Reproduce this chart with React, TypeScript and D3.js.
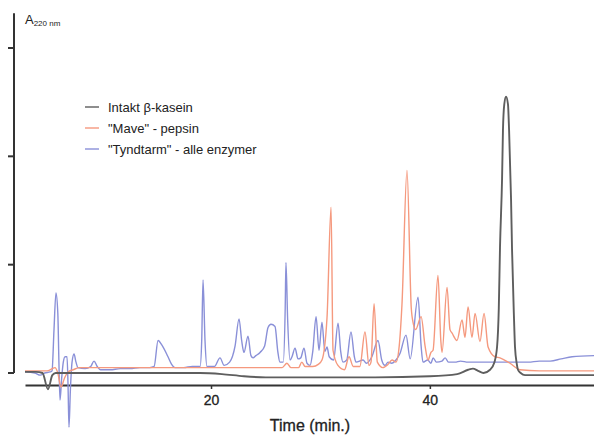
import React, { useEffect, useRef } from "react";
import * as d3 from "d3";

// time (min.) / absorbance readings taken off the chromatogram
const intaktTime = [3.0, 4.0, 4.6, 5.1, 5.5, 5.8, 6.5, 10, 15, 19, 21, 23, 25, 30, 35, 40, 42.5, 43.5, 43.94, 44.4, 44.9, 45.5, 45.9, 46.14, 46.3, 46.41, 46.6, 46.68, 46.8, 46.96, 47.14, 47.24, 47.42, 47.51, 47.69, 47.78, 47.95, 48.05, 48.3, 48.69, 50, 55];
const intaktValue = [0.01, 0.01, 0.0, -0.15, -0.02, 0.0, 0.0, 0.0, 0.0, 0.0, -0.01, -0.03, -0.04, -0.04, -0.04, -0.03, -0.01, 0.03, 0.04, 0.02, 0.0, 0.03, 0.1, 0.24, 0.6, 1.16, 1.8, 2.24, 2.48, 2.55, 2.48, 2.24, 1.6, 1.14, 0.5, 0.24, 0.08, 0.03, 0.0, -0.02, -0.02, -0.02];

const maveTime = [3.0, 4.0, 5.0, 5.5, 5.74, 6.0, 6.29, 6.6, 6.93, 7.4, 8.0, 12, 18, 24, 26.5, 26.94, 27.3, 28.0, 28.3, 28.6, 29.3, 29.8, 30.14, 30.6, 30.97, 31.15, 31.6, 32.2, 32.61, 33.0, 33.6, 34.07, 34.44, 34.62, 34.9, 35.2, 35.7, 36.18, 36.54, 36.9, 37.2, 37.45, 37.91, 38.3, 38.5, 38.7, 39.2, 39.56, 39.83, 40.1, 40.29, 40.74, 41.0, 41.11, 41.57, 41.84, 42.02, 42.48, 42.94, 43.21, 43.49, 43.85, 44.13, 44.58, 44.95, 45.32, 45.95, 46.41, 47.32, 48.24, 50, 55];
const maveValue = [0.02, 0.02, 0.02, 0.04, 0.05, 0.0, -0.13, -0.05, 0.01, 0.03, 0.05, 0.05, 0.05, 0.05, 0.05, 0.09, 0.05, 0.05, 0.1, 0.06, 0.06, 0.08, 0.12, 0.51, 1.53, 0.21, 0.07, 0.03, 0.15, 0.06, 0.06, 0.38, 0.07, 0.1, 0.64, 0.1, 0.05, 0.08, 0.12, 0.1, 0.25, 0.63, 1.87, 0.6, 0.45, 0.4, 0.52, 0.25, 0.12, 0.19, 0.21, 0.9, 0.3, 0.19, 0.79, 0.4, 0.37, 0.3, 0.49, 0.33, 0.61, 0.33, 0.55, 0.29, 0.55, 0.24, 0.15, 0.14, 0.09, 0.03, 0.02, 0.02];

const tyndTime = [3.0, 3.9, 4.4, 4.8, 5.3, 5.47, 5.65, 5.83, 6.0, 6.1, 6.2, 6.35, 6.5, 6.66, 6.84, 6.93, 7.02, 7.15, 7.3, 7.48, 7.66, 7.84, 8.5, 9.0, 9.31, 9.6, 9.9, 10.8, 11.7, 12.6, 13.5, 14.4, 14.8, 15.16, 15.5, 16.07, 16.4, 16.7, 17.5, 18.3, 19.0, 19.15, 19.27, 19.45, 19.63, 20.3, 20.82, 21.2, 21.7, 22.2, 22.56, 22.8, 23.01, 23.38, 23.65, 23.84, 24.1, 24.48, 24.9, 25.21, 25.48, 25.85, 26.1, 26.3, 26.6, 26.78, 26.85, 27.0, 27.22, 27.4, 27.68, 27.95, 28.2, 28.5, 28.77, 29.05, 29.3, 29.6, 29.87, 30.14, 30.4, 30.6, 30.8, 31.2, 31.61, 31.85, 32.06, 32.4, 32.79, 33.1, 33.25, 33.89, 34.2, 34.7, 35.26, 35.6, 35.9, 36.18, 36.5, 36.9, 37.27, 37.82, 38.2, 38.92, 39.2, 39.37, 39.8, 40.1, 40.3, 40.6, 41.1, 41.4, 41.7, 42.3, 42.8, 43.5, 44.2, 45, 46, 47, 48, 49, 50, 51, 52, 53, 55];
const tyndValue = [0.01, 0.0, -0.02, 0.0, 0.01, 0.02, 0.4, 0.74, 0.55, 0.1, -0.25, -0.05, 0.1, 0.15, 0.15, -0.1, -0.5, -0.15, 0.1, 0.175, 0.1, 0.05, 0.04, 0.06, 0.11, 0.06, 0.03, 0.03, 0.04, 0.04, 0.05, 0.05, 0.06, 0.3, 0.26, 0.15, 0.08, 0.05, 0.05, 0.06, 0.06, 0.3, 0.86, 0.3, 0.06, 0.06, 0.14, 0.07, 0.1, 0.25, 0.5, 0.3, 0.19, 0.34, 0.16, 0.14, 0.16, 0.19, 0.25, 0.42, 0.45, 0.43, 0.2, 0.1, 0.1, 0.6, 1.02, 0.5, 0.12, 0.15, 0.23, 0.13, 0.14, 0.23, 0.09, 0.07, 0.2, 0.52, 0.21, 0.47, 0.2, 0.24, 0.15, 0.12, 0.46, 0.2, 0.1, 0.12, 0.38, 0.15, 0.1, 0.12, 0.09, 0.15, 0.3, 0.12, 0.07, 0.1, 0.09, 0.12, 0.18, 0.35, 0.13, 0.7, 0.25, 0.1, 0.12, 0.09, 0.14, 0.1, 0.11, 0.14, 0.1, 0.1, 0.11, 0.1, 0.1, 0.1, 0.1, 0.1, 0.1, 0.1, 0.11, 0.11, 0.13, 0.15, 0.16, 0.17];

const legendLabels = ["Intakt \u03b2-kasein", "\"Mave\" - pepsin", "\"Tyndtarm\" - alle enzymer"];
const seriesColors = ["#5e5e5e", "#f5997e", "#8a90d8"];
const xTicks = [20, 40];
const yTicks = [0, 1, 2, 3];

export default function App() {
  const svgRef = useRef<SVGSVGElement>(null);

  useEffect(() => {
    const width = 594;
    const height = 435;
    const font = "'Liberation Sans', Arial, sans-serif";

    const svg = d3.select(svgRef.current);
    svg.selectAll("*").remove();
    svg.attr("width", width).attr("height", height);

    const x = d3.scaleLinear().domain([3, 55]).range([25, 594]);
    const y = d3.scaleLinear().domain([0, 3]).range([373, 48]);

    // y axis: bare line with left ticks, no labels
    svg
      .append("line")
      .attr("x1", 14)
      .attr("x2", 14)
      .attr("y1", y(3.32))
      .attr("y2", y(0))
      .attr("stroke", "#333")
      .attr("stroke-width", 2);
    svg
      .selectAll("line.ytick")
      .data(yTicks)
      .join("line")
      .attr("class", "ytick")
      .attr("x1", 8)
      .attr("x2", 14)
      .attr("y1", (d) => y(d))
      .attr("y2", (d) => y(d))
      .attr("stroke", "#333")
      .attr("stroke-width", 2);

    const yLabel = svg
      .append("text")
      .attr("x", 25)
      .attr("y", 24)
      .style("font-family", font)
      .style("fill", "#222");
    yLabel.append("tspan").attr("font-size", 13).text("A");
    yLabel.append("tspan").attr("font-size", 8).attr("dy", 2).text("220 nm");

    // x axis
    const xAxis = svg
      .append("g")
      .attr("transform", "translate(0,385)")
      .call(
        d3
          .axisBottom(x)
          .tickValues(xTicks)
          .tickSize(4)
          .tickSizeOuter(0)
          .tickPadding(6)
      );
    xAxis.select(".domain").attr("stroke", "#333").attr("stroke-width", 2.2);
    xAxis.selectAll(".tick line").attr("stroke", "#333").attr("stroke-width", 1.5);
    xAxis
      .selectAll(".tick text")
      .style("font-family", font)
      .style("font-size", "14px")
      .style("fill", "#222")
      .style("stroke", "#222")
      .style("stroke-width", 0.3);

    svg
      .append("text")
      .attr("x", 310)
      .attr("y", 431)
      .attr("text-anchor", "middle")
      .style("font-family", font)
      .style("font-size", "16px")
      .style("fill", "#222")
      .style("stroke", "#222")
      .style("stroke-width", 0.3)
      .text("Time (min.)");

    // traces
    const series = [
      d3.zip(intaktTime, intaktValue),
      d3.zip(maveTime, maveValue),
      d3.zip(tyndTime, tyndValue),
    ];
    const line = d3
      .line<number[]>()
      .x((d) => x(d[0]))
      .y((d) => y(d[1]))
      .curve(d3.curveMonotoneX);

    const drawOrder = [2, 1, 0];
    svg
      .selectAll("path.trace")
      .data(drawOrder)
      .join("path")
      .attr("class", "trace")
      .attr("d", (i) => line(series[i]))
      .attr("fill", "none")
      .attr("stroke", (i) => seriesColors[i])
      .attr("stroke-width", (i) => (i === 0 ? 1.9 : 1.4))
      .attr("stroke-linejoin", "round");

    // legend
    const legend = svg
      .selectAll("g.legend")
      .data(legendLabels)
      .join("g")
      .attr("class", "legend")
      .attr("transform", (d, i) => `translate(85, ${107 + i * 21})`);
    legend
      .append("line")
      .attr("x1", 0)
      .attr("x2", 14)
      .attr("stroke", (d, i) => seriesColors[i])
      .attr("stroke-width", 1.4);
    legend
      .append("text")
      .attr("x", 23)
      .attr("y", 5)
      .style("font-family", font)
      .style("font-size", "13px")
      .style("fill", "#222")
      .text((d) => d);
  }, []);

  return (
    <div style={{ position: "absolute", left: 0, top: 0 }}>
      <svg ref={svgRef} />
    </div>
  );
}
